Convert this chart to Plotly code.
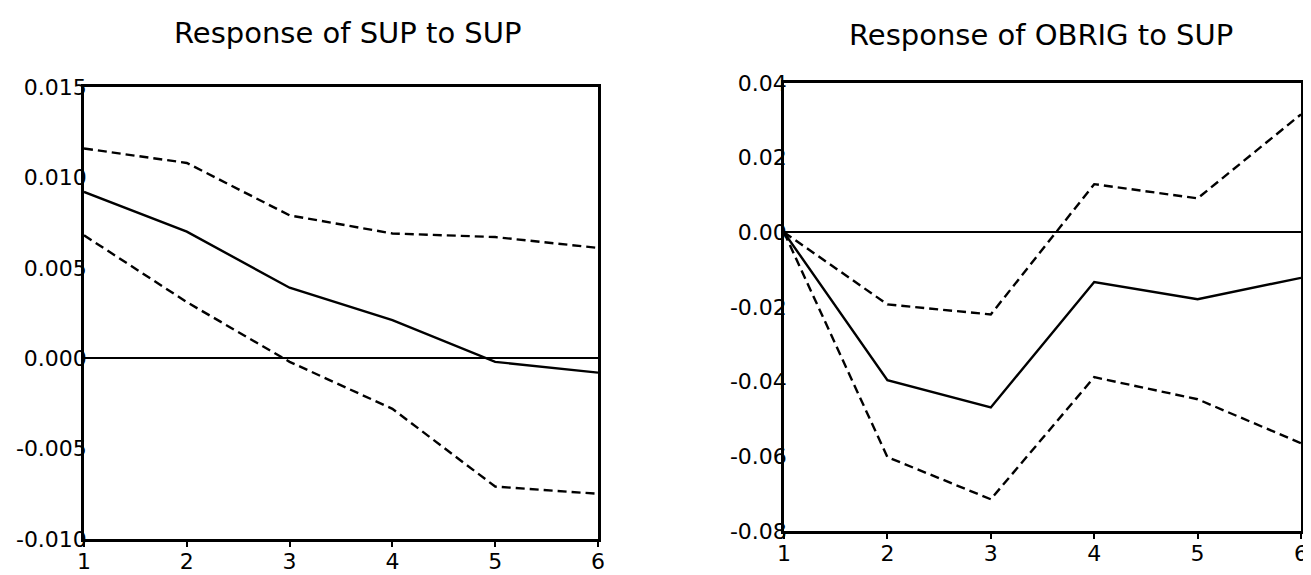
import plotly.graph_objects as go

periods = [1, 2, 3, 4, 5, 6]

# Response of SUP to SUP
sup_resp = [0.0092, 0.0070, 0.0039, 0.0021, -0.0002, -0.0008]
sup_upper = [0.0116, 0.0108, 0.0079, 0.0069, 0.0067, 0.0061]
sup_lower = [0.0068, 0.0031, -0.0002, -0.0028, -0.0071, -0.0075]

# Response of OBRIG to SUP
obrig_resp = [0.0, -0.0396, -0.0469, -0.0133, -0.0179, -0.0122]
obrig_upper = [0.0, -0.0193, -0.0220, 0.0129, 0.0091, 0.0316]
obrig_lower = [0.0, -0.0602, -0.0715, -0.0388, -0.0447, -0.0565]

titles = ["Response of SUP to SUP", "Response of OBRIG to SUP"]
sup_ticks = [-0.010, -0.005, 0.000, 0.005, 0.010, 0.015]
sup_ticklabels = ["-0.010", "-0.005", "0.000", "0.005", "0.010", "0.015"]
obrig_ticks = [-0.08, -0.06, -0.04, -0.02, 0.00, 0.02, 0.04]
obrig_ticklabels = ["-0.08", "-0.06", "-0.04", "-0.02", "0.00", "0.02", "0.04"]

FONT = "DejaVu Sans"
solid = dict(color="black", width=2.4)
dashed = dict(color="black", width=2.4, dash="9px,5px")

fig = go.Figure()
panels = [
    ("x", "y", sup_resp, sup_upper, sup_lower),
    ("x2", "y2", obrig_resp, obrig_upper, obrig_lower),
]
for xa, ya, resp, up, lo in panels:
    fig.add_trace(go.Scatter(x=periods, y=up, mode="lines", line=dashed, xaxis=xa, yaxis=ya, showlegend=False, hoverinfo="skip"))
    fig.add_trace(go.Scatter(x=periods, y=resp, mode="lines", line=solid, xaxis=xa, yaxis=ya, showlegend=False))
    fig.add_trace(go.Scatter(x=periods, y=lo, mode="lines", line=dashed, xaxis=xa, yaxis=ya, showlegend=False, hoverinfo="skip"))

W, H = 1311, 575
OFF = 7  # page body margin offset

def xdom(a, b):
    return [(a - OFF) / W, (b - OFF) / W]

def ydom(top, bottom):
    return [1 - (bottom - OFF) / H, 1 - (top - OFF) / H]

common_x = dict(
    range=[1, 6], tickvals=periods, ticktext=[str(p) for p in periods],
    showline=True, mirror=True, linecolor="black", linewidth=2.5,
    ticks="outside", ticklen=5, tickwidth=2, tickcolor="black",
    showgrid=False, zeroline=False, automargin=False,
    tickfont=dict(family=FONT, size=22, color="black"),
    ticklabelstandoff=-4,
)
common_y = dict(
    showline=True, mirror=True, linecolor="black", linewidth=2.5,
    ticks="", showgrid=False, automargin=False,
    zeroline=True, zerolinecolor="black", zerolinewidth=1.5,
    tickfont=dict(family=FONT, size=22, color="black"),
    ticklabelstandoff=-10,
)

fig.update_layout(
    width=W, height=H,
    margin=dict(l=0, r=0, t=0, b=0, autoexpand=False),
    paper_bgcolor="white", plot_bgcolor="white",
    xaxis=dict(domain=xdom(83, 597), anchor="y", **common_x),
    yaxis=dict(domain=ydom(86, 538), anchor="x", range=[-0.010, 0.015],
               tickvals=sup_ticks, ticktext=sup_ticklabels, **common_y),
    xaxis2=dict(domain=xdom(783, 1300), anchor="y2", **common_x),
    yaxis2=dict(domain=ydom(82, 530), anchor="x2", range=[-0.08, 0.04],
                tickvals=obrig_ticks, ticktext=obrig_ticklabels, **common_y),
    annotations=[
        dict(text=titles[0], x=(346 - OFF) / W, y=1 - (32 - OFF) / H, xref="paper", yref="paper",
             xanchor="center", yanchor="middle", showarrow=False,
             font=dict(family=FONT, size=29, color="black")),
        dict(text=titles[1], x=(1040 - OFF) / W, y=1 - (34 - OFF) / H, xref="paper", yref="paper",
             xanchor="center", yanchor="middle", showarrow=False,
             font=dict(family=FONT, size=29, color="black")),
    ],
)

fig.write_html("out.html")
